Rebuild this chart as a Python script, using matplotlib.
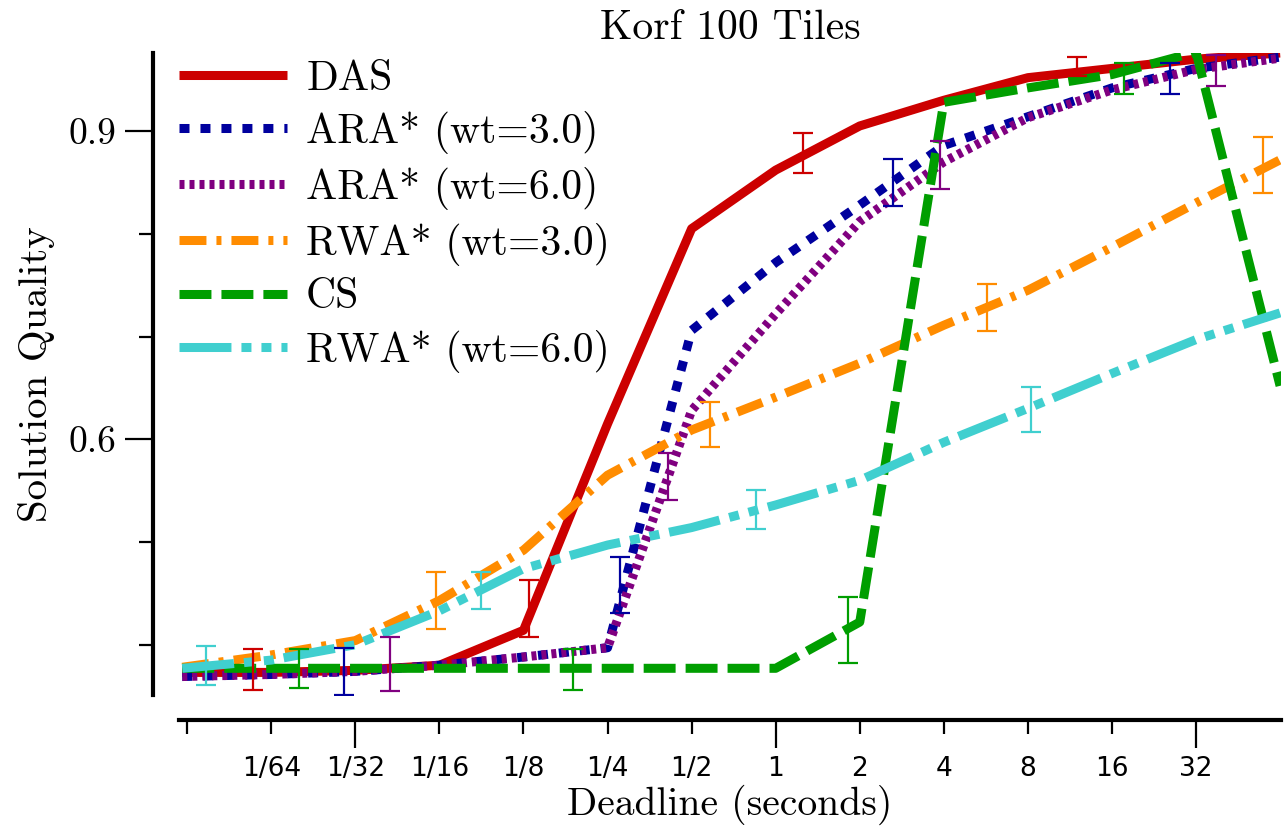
import numpy as np
import matplotlib
matplotlib.use("Agg")
import matplotlib.pyplot as plt
from matplotlib.ticker import FixedLocator, FixedFormatter, NullFormatter

plt.rcParams['lines.scale_dashes'] = False
plt.rcParams['axes.formatter.use_mathtext'] = True

# deadlines in seconds
deadlines = [0.0075, 1/64, 1/32, 1/16, 1/8, 1/4, 1/2, 1, 2, 4, 8, 16, 32, 64]

das     = [0.373, 0.373, 0.375, 0.380, 0.414, 0.615, 0.805, 0.862, 0.905, 0.930, 0.952, 0.961, 0.970, 0.976]
ara3    = [0.369, 0.371, 0.374, 0.380, 0.388, 0.397, 0.706, 0.772, 0.828, 0.886, 0.914, 0.942, 0.961, 0.972]
ara6    = [0.369, 0.371, 0.374, 0.380, 0.388, 0.397, 0.628, 0.722, 0.812, 0.870, 0.913, 0.940, 0.960, 0.971]
rwa3    = [0.378, 0.390, 0.404, 0.443, 0.492, 0.565, 0.609, 0.641, 0.674, 0.711, 0.745, 0.787, 0.830, 0.872]
cs      = [0.377, 0.377, 0.377, 0.377, 0.377, 0.377, 0.377, 0.377, 0.422, 0.928, 0.942, 0.955, 0.977, 0.652]
rwa6    = [0.377, 0.385, 0.400, 0.433, 0.474, 0.497, 0.514, 0.536, 0.560, 0.597, 0.630, 0.664, 0.697, 0.723]

# error bars: position (log2 of deadline), centre, half width
das_ex   = [-6.22, -2.94, 0.32, 3.58]
das_ey   = [0.3755, 0.435, 0.879, 0.963]
das_ee   = [0.020, 0.028, 0.0195, 0.009]
ara3_ex  = [-5.14, -1.85, 1.40, 4.69]
ara3_ey  = [0.374, 0.458, 0.850, 0.951]
ara3_ee  = [0.023, 0.027, 0.023, 0.015]
ara6_ex  = [-4.59, -1.28, 1.95, 5.24]
ara6_ey  = [0.381, 0.5635, 0.867, 0.959]
ara6_ee  = [0.026, 0.023, 0.023, 0.0155]
rwa3_ex  = [-4.04, -0.78, 2.51, 5.80]
rwa3_ey  = [0.443, 0.614, 0.728, 0.867]
rwa3_ee  = [0.028, 0.022, 0.023, 0.027]
cs_ex    = [-5.67, -2.41, 0.86, 4.14]
cs_ey    = [0.377, 0.376, 0.414, 0.951]
cs_ee    = [0.019, 0.020, 0.032, 0.015]
rwa6_ex  = [-6.78, -3.50, -0.23, 3.04]
rwa6_ey  = [0.380, 0.453, 0.532, 0.629]
rwa6_ee  = [0.019, 0.018, 0.019, 0.022]

xtick_pos = [1/128, 1/64, 1/32, 1/16, 1/8, 1/4, 1/2, 1, 2, 4, 8, 16, 32]
xtick_lab = ['', '1/64', '1/32', '1/16', '1/8', '1/4', '1/2', '1', '2', '4', '8', '16', '32']

series = [
    ('DAS', das, das_ex, das_ey, das_ee, '#cc0000', '-'),
    ('ARA* (wt=3.0)', ara3, ara3_ex, ara3_ey, ara3_ee, '#00009e', (0, (7.2, 7.9))),
    ('ARA* (wt=6.0)', ara6, ara6_ex, ara6_ey, ara6_ee, '#800080', (0, (3.6, 3.6))),
    ('RWA* (wt=3.0)', rwa3, rwa3_ex, rwa3_ey, rwa3_ee, '#ff8c00', (0, (19.4, 7.2, 3.6, 7.2))),
    ('CS', cs, cs_ex, cs_ey, cs_ee, '#009e00', (0, (23, 7.2))),
    ('RWA* (wt=6.0)', rwa6, rwa6_ex, rwa6_ey, rwa6_ee, '#40cfcf', (0, (37.4, 7.2, 7.2, 7.2, 7.2, 7.2))),
]

fig = plt.figure(figsize=(12.85, 8.27), dpi=100)
ax = fig.add_axes([0.1393, 0.1596, 0.8576, 0.7763])

for name, vals, ex, ey, ee, col, ls in series:
    ax.plot(deadlines, vals, color=col, linestyle=ls, linewidth=6.5, label=name,
            solid_capstyle='butt', dash_capstyle='butt')
for name, vals, ex, ey, ee, col, ls in series:
    ax.errorbar(2.0 ** np.array(ex), ey, yerr=ee, fmt='none', ecolor=col,
                elinewidth=1.6, capsize=7, capthick=1.6)

ax.set_xscale('log', base=2)
ax.set_xlim(0.0073, 64.5)
ax.set_ylim(0.351, 0.976)

for s in ['top', 'right']:
    ax.spines[s].set_visible(False)
ax.spines['left'].set_position(('outward', 19))
ax.spines['bottom'].set_position(('outward', 18))
ax.spines['left'].set_linewidth(3)
ax.spines['bottom'].set_linewidth(3)

major_x = [1/32, 1, 32]
minor_x = [p for p in xtick_pos if p not in major_x]
ax.xaxis.set_major_locator(FixedLocator(major_x))
ax.xaxis.set_major_formatter(FixedFormatter([xtick_lab[xtick_pos.index(p)] for p in major_x]))
ax.xaxis.set_minor_locator(FixedLocator(minor_x))
ax.xaxis.set_minor_formatter(FixedFormatter([xtick_lab[xtick_pos.index(p)] for p in minor_x]))
ax.tick_params(axis='x', which='major', length=20, width=1.6, pad=6, labelsize=19)
ax.tick_params(axis='x', which='minor', length=10, width=1.6, pad=16, labelsize=19)
for t in ax.get_xticklabels(which='both'):
    t.set_fontfamily('DejaVu Sans')

ax.yaxis.set_major_locator(FixedLocator([0.6, 0.9]))
ax.yaxis.set_minor_locator(FixedLocator([0.4, 0.5, 0.7, 0.8]))
ax.yaxis.set_minor_formatter(NullFormatter())
ax.set_yticklabels(['0.6', '0.9'], fontfamily='cmr10', fontsize=27)
ax.tick_params(axis='y', which='major', length=20, width=1.6, pad=6)
ax.tick_params(axis='y', which='minor', length=10, width=1.6)

ax.set_xlabel('Deadline (seconds)', fontfamily='cmr10', fontsize=28.5, labelpad=2)
ax.set_ylabel('Solution Quality', fontfamily='cmr10', fontsize=29.5, labelpad=10)
ax.set_title('Korf 100 Tiles', fontfamily='cmr10', fontsize=30, pad=10)

leg = ax.legend(loc='upper left', bbox_to_anchor=(0.0, 0.989), frameon=False,
                prop={'family': 'cmr10', 'size': 30}, handlelength=2.6,
                handletextpad=0.45, labelspacing=0.315, borderaxespad=0, borderpad=0)

fig.savefig('out.png', dpi=100)
